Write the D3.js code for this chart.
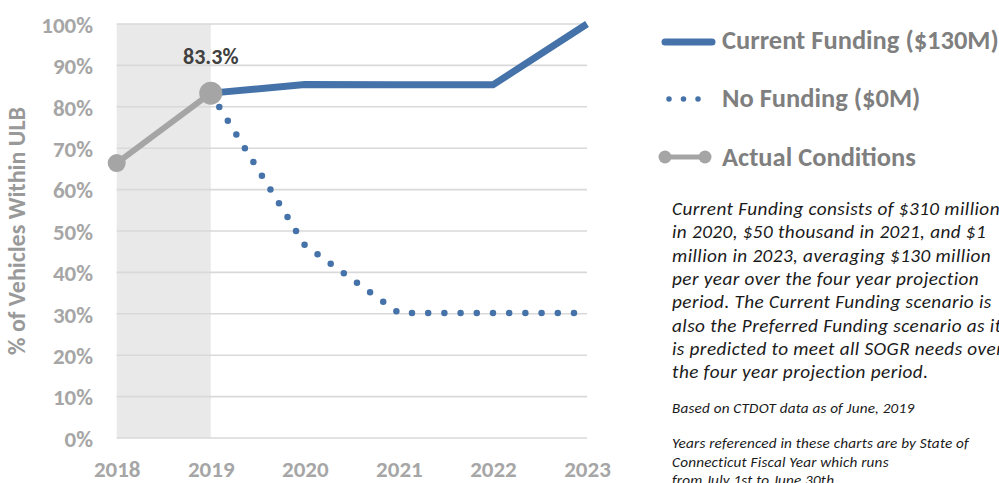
<!DOCTYPE html>
<html>
<head>
<meta charset="utf-8">
<script src="https://cdn.jsdelivr.net/npm/d3@7"></script>
<style>
html,body{margin:0;padding:0;background:#fff;overflow:hidden;}
svg{display:block;}
text{font-family:Carlito,Calibri,Lato,"Noto Sans",sans-serif;}
</style>
</head>
<body>
<svg id="chart" width="999" height="483"></svg>
<script>
// ---- data ----
const years = [2018, 2019, 2020, 2021, 2022, 2023];
const yTicks = [0, 0.1, 0.2, 0.3, 0.4, 0.5, 0.6, 0.7, 0.8, 0.9, 1.0];
const actualYears = [2018, 2019];
const actualValues = [0.664, 0.833];
const projYears = [2019, 2020, 2021, 2022, 2023];
const currentFunding = [0.833, 0.854, 0.853, 0.853, 1.0];
const noFunding = [0.833, 0.466, 0.302, 0.302, 0.302];
const historicBand = [2018, 2019];
const labelText = "83.3%";
const legendLabels = ["Current Funding ($130M)", "No Funding ($0M)", "Actual Conditions"];
const noteLines = [
  "Current Funding consists of $310 million",
  "in 2020, $50 thousand in 2021, and $1",
  "million in 2023, averaging $130 million",
  "per year over the four year projection",
  "period. The Current Funding scenario is",
  "also the Preferred Funding scenario as it",
  "is predicted to meet all SOGR needs over",
  "the four year projection period."
];
const smallNote1 = ["Based on CTDOT data as of June, 2019"];
const smallNote2 = ["Years referenced in these charts are by State of",
  "Connecticut Fiscal Year which runs",
  "from July 1st to June 30th"];

// ---- layout ----
const svg = d3.select("#chart");
const blue = "#4573a9", gray = "#a5a5a5";
const x = d3.scaleLinear().domain([2018, 2023]).range([116.7, 587]);
const y = d3.scaleLinear().domain([0, 1]).range([438, 24]);

// historic band
svg.append("rect")
  .attr("x", x(historicBand[0])).attr("y", y(1))
  .attr("width", x(historicBand[1]) - x(historicBand[0]))
  .attr("height", y(0) - y(1))
  .attr("fill", "#e9e9e9");

// gridlines
svg.append("g").selectAll("line").data(yTicks).join("line")
  .attr("x1", x(2018)).attr("x2", x(2023))
  .attr("y1", d => y(d)).attr("y2", d => y(d))
  .attr("stroke", "#d9d9d9").attr("stroke-width", 1.6);

// y axis labels
const yAxis = d3.axisLeft(y).tickValues(yTicks).tickFormat(d3.format(".0%")).tickSize(0).tickPadding(0);
const ya = svg.append("g").attr("transform", "translate(93,0)").call(yAxis);
ya.select(".domain").remove();
ya.selectAll("text").attr("fill", "#a6a6a6").attr("font-size", 23).attr("font-weight", "bold")
  .attr("font-family", "Carlito,Calibri,Lato,sans-serif").attr("dy", "0.36em");

// x axis labels
const xAxis = d3.axisBottom(x).tickValues(years).tickFormat(d3.format("d")).tickSize(0).tickPadding(0);
const xa = svg.append("g").attr("transform", "translate(0,460.5)").call(xAxis);
xa.select(".domain").remove();
xa.selectAll("text").attr("fill", "#a6a6a6").attr("font-size", 23).attr("font-weight", "bold")
  .attr("font-family", "Carlito,Calibri,Lato,sans-serif").attr("dy", "0.72em");

// y title
svg.append("text")
  .attr("transform", "translate(25,231) rotate(-90)")
  .attr("text-anchor", "middle")
  .attr("fill", "#999999").attr("font-size", 24).attr("font-weight", "bold")
  .text("% of Vehicles Within ULB");

const line = d3.line().x(d => x(d[0])).y(d => y(d[1]));

// no funding dotted
svg.append("path")
  .datum(projYears.map((yr, i) => [yr, noFunding[i]]))
  .attr("d", line).attr("fill", "none")
  .attr("stroke", blue).attr("stroke-width", 6.5)
  .attr("stroke-linecap", "round").attr("stroke-dasharray", "0,16.2");

// current funding
svg.append("path")
  .datum(projYears.map((yr, i) => [yr, currentFunding[i]]))
  .attr("d", line).attr("fill", "none")
  .attr("stroke", blue).attr("stroke-width", 7)
  .attr("stroke-linejoin", "round");

// actual
const actualData = actualYears.map((yr, i) => [yr, actualValues[i]]);
svg.append("path").datum(actualData).attr("d", line).attr("fill", "none")
  .attr("stroke", gray).attr("stroke-width", 6);
svg.append("g").selectAll("circle").data(actualData).join("circle")
  .attr("cx", d => x(d[0])).attr("cy", d => y(d[1]))
  .attr("r", (d, i) => i === actualData.length - 1 ? 11.5 : 9)
  .attr("fill", gray);

// data label
svg.append("text")
  .attr("x", x(2019)).attr("y", 64).attr("text-anchor", "middle")
  .attr("fill", "#404040").attr("font-size", 22).attr("font-weight", "bold")
  .text(labelText);

// legend
const lg = svg.append("g");
lg.append("line").attr("x1", 665).attr("x2", 712).attr("y1", 42).attr("y2", 42)
  .attr("stroke", blue).attr("stroke-width", 7).attr("stroke-linecap", "round");
lg.append("line").attr("x1", 669).attr("x2", 699).attr("y1", 99).attr("y2", 99)
  .attr("stroke", blue).attr("stroke-width", 5.5).attr("stroke-linecap", "round")
  .attr("stroke-dasharray", "0,14.5");
lg.append("line").attr("x1", 665).attr("x2", 705).attr("y1", 157).attr("y2", 157)
  .attr("stroke", gray).attr("stroke-width", 5);
lg.selectAll("circle").data([665, 705]).join("circle")
  .attr("cx", d => d).attr("cy", 157).attr("r", 6.5).attr("fill", gray);
lg.selectAll("text").data(legendLabels).join("text")
  .attr("x", 722).attr("y", (d, i) => [49, 107, 166][i])
  .attr("fill", "#7f7f7f").attr("font-size", 26.5).attr("font-weight", "bold")
  .text(d => d);

// notes
svg.append("g").selectAll("text").data(noteLines).join("text")
  .attr("x", 672).attr("y", (d, i) => 215 + i * 23.3)
  .attr("fill", "#1a1a1a").attr("font-size", 19.2).attr("letter-spacing", "0.45px")
  .attr("font-style", "italic")
  .text(d => d);
svg.append("g").selectAll("text").data(smallNote1).join("text")
  .attr("x", 672).attr("y", 413)
  .attr("fill", "#1a1a1a").attr("font-size", 15.2).attr("letter-spacing", "0.2px")
  .attr("font-style", "italic")
  .text(d => d);
svg.append("g").selectAll("text").data(smallNote2).join("text")
  .attr("x", 672).attr("y", (d, i) => 448 + i * 18.5)
  .attr("fill", "#1a1a1a").attr("font-size", 15.2).attr("letter-spacing", "0.2px")
  .attr("font-style", "italic")
  .text(d => d);
</script>
</body>
</html>
